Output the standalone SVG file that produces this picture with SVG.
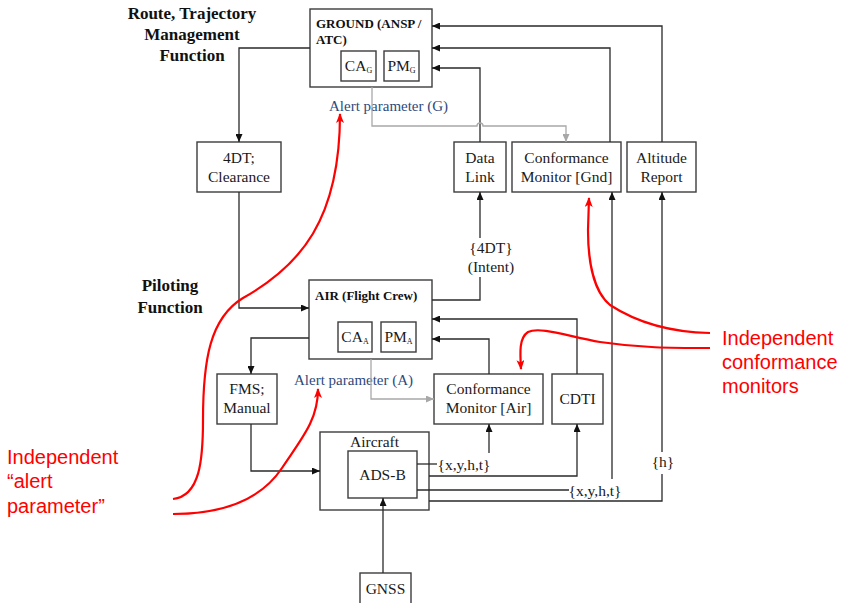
<svg xmlns="http://www.w3.org/2000/svg" width="842" height="603" viewBox="0 0 842 603">
  <style>
    .box { fill: #fff; stroke: #3c3c3c; stroke-width: 1.4; }
    .lbl { font-family: "Liberation Serif", "Times New Roman", serif; font-size: 15.5px; fill: #1a1a1a; text-anchor: middle; }
    .sub { font-size: 8px; }
    .bold { font-family: "Liberation Serif", "Times New Roman", serif; font-weight: bold; fill: #111; }
    .fn { font-size: 17px; text-anchor: middle; }
    .hdr { font-size: 13px; }
    .alert { font-family: "Liberation Serif", "Times New Roman", serif; font-size: 15px; fill: #2e4a7d; }
    .wire { fill: none; stroke: #2a2a2a; stroke-width: 1.3; }
    .wire-a { marker-end: url(#arr); }
    .gray { fill: none; stroke: #a8a8a8; stroke-width: 1.3; }
    .note { font-family: "Liberation Sans", Arial, sans-serif; font-size: 20px; fill: #f00; }
    .red { fill: none; stroke: #f00; stroke-width: 2.2; marker-end: url(#rarr); }
  </style>
  <defs>
    <marker id="arr" viewBox="0 0 8 7" refX="8" refY="3.5" markerWidth="8" markerHeight="7" markerUnits="userSpaceOnUse" orient="auto">
      <path d="M0,0 L8,3.5 L0,7 z" fill="#111"/>
    </marker>
    <marker id="garr" viewBox="0 0 8 7" refX="8" refY="3.5" markerWidth="8" markerHeight="7" markerUnits="userSpaceOnUse" orient="auto">
      <path d="M0,0 L8,3.5 L0,7 z" fill="#a8a8a8"/>
    </marker>
    <marker id="rarr" viewBox="0 0 10 8" refX="9" refY="4" markerWidth="10" markerHeight="8" markerUnits="userSpaceOnUse" orient="auto">
      <path d="M0,0 L10,4 L0,8 L2.5,4 z" fill="#f00"/>
    </marker>
  </defs>

  <rect width="842" height="603" fill="#fff"/>

  <!-- function headings -->
  <g id="heading-route">
    <text class="bold fn" x="192" y="19">Route, Trajectory</text>
    <text class="bold fn" x="192" y="40">Management</text>
    <text class="bold fn" x="192" y="61">Function</text>
  </g>
  <g id="heading-piloting">
    <text class="bold fn" x="170" y="291">Piloting</text>
    <text class="bold fn" x="170" y="313">Function</text>
  </g>

  <!-- ground segment -->
  <g id="ground">
    <rect class="box" x="310" y="9" width="122" height="78"/>
    <text class="bold hdr" x="316" y="28">GROUND (ANSP /</text>
    <text class="bold hdr" x="316" y="44">ATC)</text>
    <rect class="box" x="341" y="51" width="35" height="30"/>
    <text class="lbl" x="358.5" y="71">CA<tspan class="sub" dy="2">G</tspan></text>
    <rect class="box" x="384" y="51" width="35" height="30"/>
    <text class="lbl" x="401.5" y="71">PM<tspan class="sub" dy="2">G</tspan></text>
  </g>
  <g id="alert-g">
    <text class="alert" x="329" y="111">Alert parameter (G)</text>
  </g>

  <g id="clearance">
    <rect class="box" x="197" y="142" width="84" height="50"/>
    <text class="lbl" x="239" y="163">4DT;</text>
    <text class="lbl" x="239" y="182">Clearance</text>
  </g>
  <g id="data-link">
    <rect class="box" x="454" y="142" width="52" height="50"/>
    <text class="lbl" x="480" y="163">Data</text>
    <text class="lbl" x="480" y="182">Link</text>
  </g>
  <g id="conformance-gnd">
    <rect class="box" x="512" y="142" width="109" height="50"/>
    <text class="lbl" x="566.5" y="163">Conformance</text>
    <text class="lbl" x="566.5" y="182">Monitor [Gnd]</text>
  </g>
  <g id="altitude-report">
    <rect class="box" x="627" y="142" width="69" height="50"/>
    <text class="lbl" x="661.5" y="163">Altitude</text>
    <text class="lbl" x="661.5" y="182">Report</text>
  </g>

  <!-- air segment -->
  <g id="air">
    <rect class="box" x="309" y="280" width="123" height="79"/>
    <text class="bold hdr" x="315" y="300">AIR (Flight Crew)</text>
    <rect class="box" x="338" y="322" width="34" height="30"/>
    <text class="lbl" x="355" y="342">CA<tspan class="sub" dy="2">A</tspan></text>
    <rect class="box" x="381" y="322" width="35" height="30"/>
    <text class="lbl" x="398.5" y="342">PM<tspan class="sub" dy="2">A</tspan></text>
  </g>
  <g id="alert-a">
    <text class="alert" x="294" y="385">Alert parameter (A)</text>
  </g>
  <g id="fms">
    <rect class="box" x="217" y="374" width="60" height="50"/>
    <text class="lbl" x="247" y="394">FMS;</text>
    <text class="lbl" x="247" y="413">Manual</text>
  </g>
  <g id="conformance-air">
    <rect class="box" x="434" y="374" width="109" height="50"/>
    <text class="lbl" x="488.5" y="394">Conformance</text>
    <text class="lbl" x="488.5" y="413">Monitor [Air]</text>
  </g>
  <g id="cdti">
    <rect class="box" x="552" y="374" width="51" height="50"/>
    <text class="lbl" x="577.5" y="404">CDTI</text>
  </g>
  <g id="aircraft">
    <rect class="box" x="320" y="432" width="109" height="78"/>
    <text class="lbl" x="374.5" y="447">Aircraft</text>
  </g>
  <g id="ads-b">
    <rect class="box" x="348" y="451" width="69" height="47"/>
    <text class="lbl" x="382.5" y="480">ADS-B</text>
  </g>
  <g id="gnss">
    <rect class="box" x="360" y="573" width="51" height="40"/>
    <text class="lbl" x="385.5" y="594">GNSS</text>
  </g>

  <!-- connectors -->
  <g id="connectors">
    <path class="wire wire-a" d="M310,48 H239 V142"/>
    <path class="wire wire-a" d="M662,142 V26 H432"/>
    <path class="wire wire-a" d="M610,142 V48 H432"/>
    <path class="wire wire-a" d="M480,142 V68 H432"/>
    <path class="wire wire-a" d="M239,192 V308 H309"/>
    <path class="wire wire-a" d="M432,300 H480 V192"/>
    <path class="wire wire-a" d="M309,338 H251 V374"/>
    <path class="wire wire-a" d="M577,374 V319 H432"/>
    <path class="wire wire-a" d="M489,374 V339 H432"/>
    <path class="wire wire-a" d="M251,424 V471 H320"/>
    <path class="wire wire-a" d="M383,573 V498"/>
    <path class="wire" d="M417,464 H437"/>
    <path class="wire wire-a" d="M489,453 V424"/>
    <path class="wire wire-a" d="M429,476 H577 V424"/>
    <path class="wire" d="M417,490 H569"/>
    <path class="wire wire-a" d="M612,479 V192"/>
    <path class="wire wire-a" d="M429,501 H662 V192"/>
    <path class="gray" marker-end="url(#garr)" d="M372,87 V126 H477 a3,3 0 0 1 6,0 H566 V142"/>
    <path class="gray" marker-end="url(#garr)" d="M371,359 V399 H434"/>

    <!-- connector labels -->
    <rect x="466" y="238" width="50" height="39" fill="#fff"/>
    <text class="lbl" x="491" y="253">{4DT}</text>
    <text class="lbl" x="491" y="272">(Intent)</text>
    <rect x="652" y="452" width="20" height="22" fill="#fff"/>
    <text class="lbl" x="663" y="467">{h}</text>
    <text class="lbl" x="464" y="470">{x,y,h,t}</text>
    <text class="lbl" x="595" y="496">{x,y,h,t}</text>
  </g>

  <!-- red callouts -->
  <g id="callout-alert">
    <path class="red" d="M173,499 C200,496 203,460 203,420 C203,360 210,318 243,298 C300,266 340,220 340,114"/>
    <path class="red" d="M173,514 C225,514 262,498 282,468 C302,438 318,420 318,389"/>
    <text class="note" x="7" y="464">Independent</text>
    <text class="note" x="7" y="488">“alert</text>
    <text class="note" x="7" y="513">parameter”</text>
  </g>
  <g id="callout-monitors">
    <path class="red" d="M710,333 C660,332 630,318 610,305 C594,292 588,262 588,230 L589,198"/>
    <path class="red" d="M710,348 C670,348 640,348 600,342 C570,337 540,326 528,332 C519,338 520,352 521,369"/>
    <text class="note" x="722" y="345">Independent</text>
    <text class="note" x="722" y="369">conformance</text>
    <text class="note" x="722" y="393">monitors</text>
  </g>
</svg>
